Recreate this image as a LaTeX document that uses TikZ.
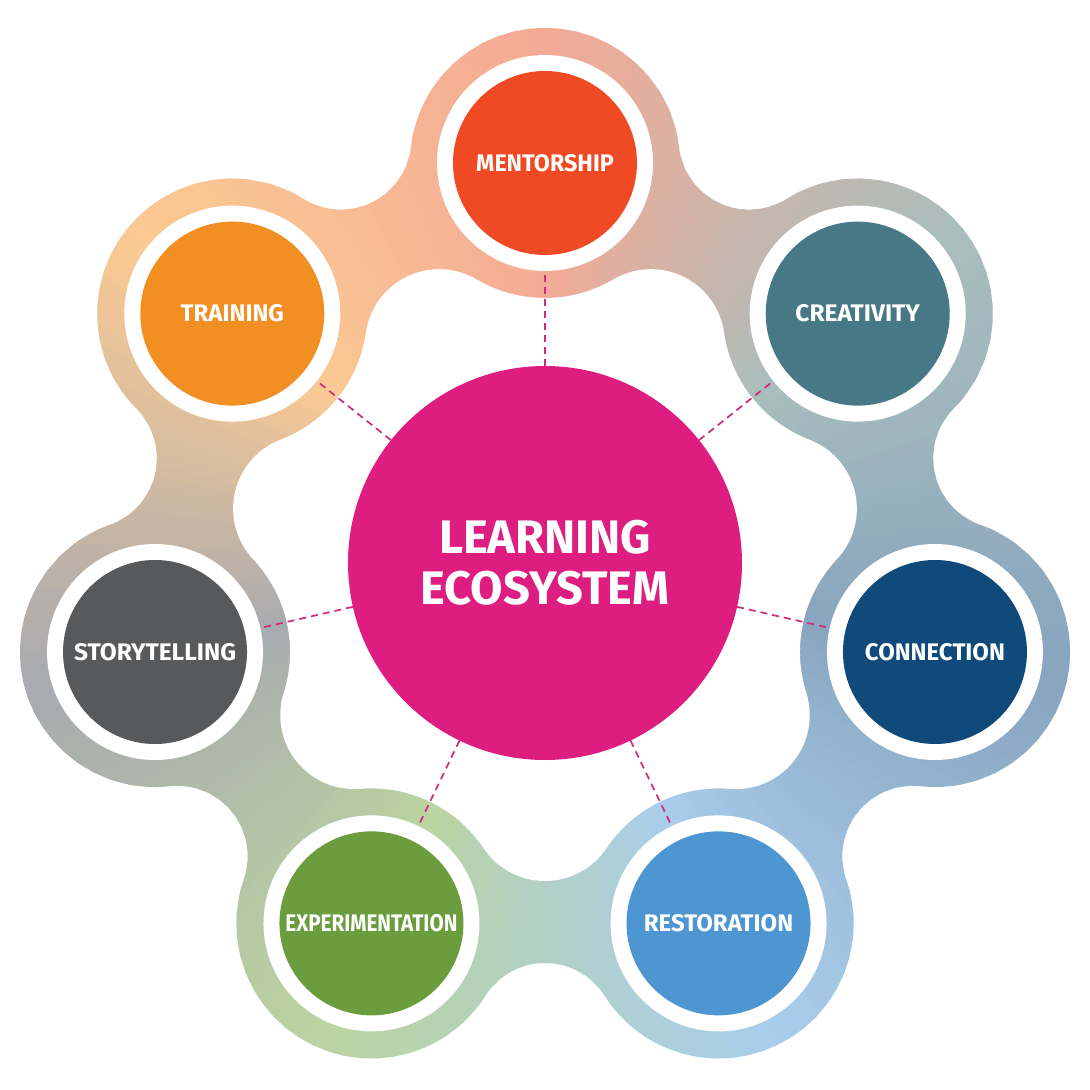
\documentclass[tikz,border=0pt]{standalone}
\usepackage{fontspec}
\setmainfont{Fira Sans}
\usetikzlibrary{calc}
\definecolor{cM}{HTML}{EF4A23}
\definecolor{cC}{HTML}{477886}
\definecolor{cN}{HTML}{0F4A7A}
\definecolor{cR}{HTML}{4D96D1}
\definecolor{cE}{HTML}{6B9C3D}
\definecolor{cS}{HTML}{58595B}
\definecolor{cT}{HTML}{F18F22}
\definecolor{cEco}{HTML}{DE1D80}
\definecolor{cDash}{HTML}{CF2A7E}
\definecolor{h0}{HTML}{F4AA95}
\definecolor{h1}{HTML}{AABEBC}
\definecolor{h2}{HTML}{88A5BF}
\definecolor{h3}{HTML}{A9CDEC}
\definecolor{h4}{HTML}{BBD4A0}
\definecolor{h5}{HTML}{A8AAAF}
\definecolor{h6}{HTML}{FBCA93}
\begin{document}
\begin{tikzpicture}[x=1pt,y=1pt,
  ring/.style={circle,fill=white,minimum size=216pt,inner sep=0pt,outer sep=0pt},
  disc/.style={circle,minimum size=184pt,inner sep=0pt,outer sep=0pt,text=white,
    font=\fontsize{24}{24}\selectfont\bfseries},
  ecobox/.style={circle,fill=cEco,minimum size=394pt,inner sep=0pt,outer sep=0pt,text=white,
    align=center,font=\fontsize{47}{51}\selectfont\bfseries},
  dashline/.style={draw=cDash,line width=1.7pt,dash pattern=on 7pt off 5pt}]
\useasboundingbox (-545,-527) rectangle (545,563);
% gradient ring (angular gradient clipped to the outer outline)
\begin{scope}
\clip ([shift={(90:400)}]173.302:135)
  \foreach \i [evaluate=\i as \t using 90-\i*360/7, evaluate=\i as \f using 90-\i*360/7-180/7] in {0,...,6}{
    -- ([shift={(\t:400)}]\t+83.302:135)
    arc[start angle=\t+83.302, end angle=\t-83.302, radius=135]
    -- ([shift={(\f:470.58)}]\f+122.412:70.58)
    arc[start angle=\f+122.412, end angle=\f+237.588, radius=70.58]
  } -- cycle;
\foreach \i in {0,...,6}{
  \pgfmathtruncatemacro{\nx}{mod(\i+1,7)}
  \foreach \j in {0,...,29}{
    \pgfmathsetmacro{\aa}{90-\i*360/7-\j*12/7+0.3}
    \pgfmathsetmacro{\bb}{90-\i*360/7-(\j+1)*12/7-0.3}
    \pgfmathtruncatemacro{\pp}{round((\j+0.5)/30*100)}
    \fill[color=h\nx!\pp!h\i] (0,0) -- (\aa:700) -- (\bb:700) -- cycle;
  }
}
\end{scope}
% inner hole
\fill[white] ([shift={(90:400)}]239.54:135)
  \foreach \i [evaluate=\i as \t using 90-\i*360/7, evaluate=\i as \f using 90-\i*360/7-180/7] in {0,...,6}{
    -- ([shift={(\t:400)}]\t+149.54:135)
    arc[start angle=\t+149.54, end angle=\t+210.46, radius=135]
    -- ([shift={(\f:244.09)}]\f+56.17:73.91)
    arc[start angle=\f+56.17, end angle=\f-56.17, radius=73.91]
  } -- cycle;
% centre
\node[ecobox] (eco) at (0,0) {LEARNING\\ECOSYSTEM};
% outer nodes
\foreach \i/\lab/\col/\sx in {0/MENTORSHIP/cM/0.97,1/CREATIVITY/cC/1.02,2/CONNECTION/cN/1,3/RESTORATION/cR/1,4/EXPERIMENTATION/cE/0.86,5/STORYTELLING/cS/1.02,6/TRAINING/cT/1}{
  \node[ring] (r\i) at (90-\i*360/7:400) {};
  \node[disc,fill=\col] (n\i) at (r\i) {\scalebox{\sx}[1]{\lab}};
  \draw[dashline] (eco) -- (r\i);
}
\end{tikzpicture}
\end{document}
